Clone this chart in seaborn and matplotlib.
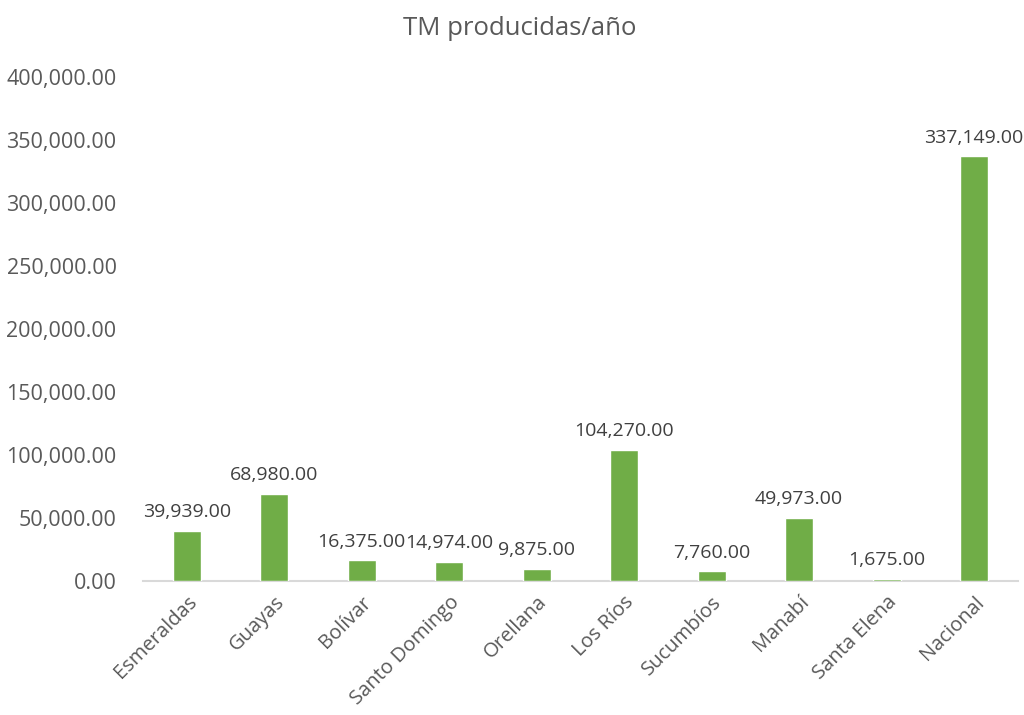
import pandas as pd
import seaborn as sns
import matplotlib.pyplot as plt
from matplotlib.ticker import FuncFormatter

provincias = ['Esmeraldas', 'Guayas', 'Bolívar', 'Santo Domingo', 'Orellana',
              'Los Ríos', 'Sucumbíos', 'Manabí', 'Santa Elena', 'Nacional']
toneladas = [39939, 68980, 16375, 14974, 9875, 104270, 7760, 49973, 1675, 337149]

df = pd.DataFrame({'provincia': provincias, 'tm': toneladas})

sns.set_style('white')
plt.rcParams['font.family'] = ['Open Sans', 'DejaVu Sans']

fig = plt.figure(figsize=(10.24, 7.15), dpi=100)
ax = fig.add_axes([0.1396, 0.1874, 0.8544, 0.7046])

sns.barplot(data=df, x='provincia', y='tm', color='#70AD47', width=0.32,
            saturation=1, ax=ax, zorder=3)

# etiquetas de datos encima de cada barra
for i, v in enumerate(toneladas):
    ax.annotate(f'{v:,.2f}', (i, v), xytext=(0, 7), textcoords='offset points',
                ha='center', va='bottom', fontsize=14, color='#404040')

ax.set_ylim(0, 400000)
ax.set_yticks(range(0, 400001, 50000))
ax.yaxis.set_major_formatter(FuncFormatter(lambda y, _: f'{y:,.2f}'))
ax.set_xlim(-0.5, len(provincias) - 0.5)

ax.set_xlabel('')
ax.set_ylabel('')
fig.text(0.508, 0.96, 'TM producidas/año', fontsize=18.5, color='#595959',
         ha='center', va='center')

for s in ['top', 'right', 'left']:
    ax.spines[s].set_visible(False)
ax.spines['bottom'].set_color('#D9D9D9')
ax.spines['bottom'].set_linewidth(1.5)

ax.tick_params(axis='y', length=0, labelsize=15.5, labelcolor='#595959', pad=19)
ax.tick_params(axis='x', length=0, labelsize=14.5, labelcolor='#595959', pad=8)
plt.setp(ax.get_xticklabels(), rotation=45, ha='right', rotation_mode='anchor')

fig.savefig('out.png', dpi=100)
